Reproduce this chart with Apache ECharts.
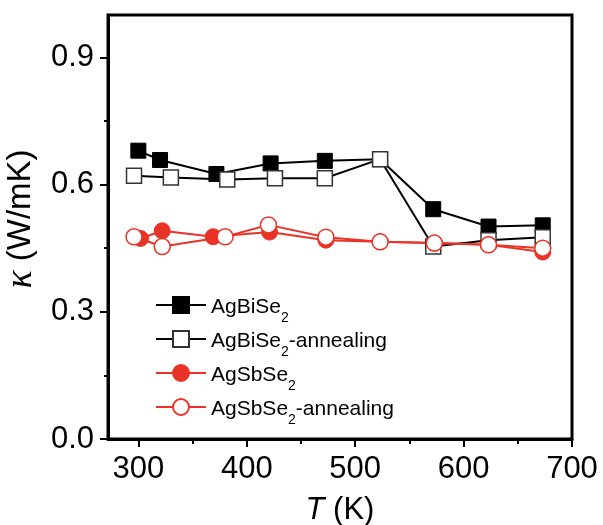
<!DOCTYPE html>
<html>
<head>
<meta charset="utf-8">
<script src="https://cdn.jsdelivr.net/npm/echarts@6/dist/echarts.min.js"></script>
<style>
  html, body { margin: 0; padding: 0; background: #fff; }
  #chart { width: 603px; height: 525px; }
</style>
</head>
<body>
<div id="chart"></div>
<script>
// temperatures (K) and thermal conductivity (W/mK)
var tBi = [300, 320, 372, 422, 472, 523, 572, 623, 673];
var kBi = [0.680, 0.658, 0.625, 0.650, 0.656, 0.660, 0.542, 0.501, 0.504];
var tBiAnn = [296, 330, 382, 426, 472, 523, 572, 623, 673];
var kBiAnn = [0.621, 0.617, 0.612, 0.615, 0.615, 0.660, 0.454, 0.469, 0.476];
var tSb = [302, 322, 369, 421, 473, 523, 573, 623, 673];
var kSb = [0.473, 0.491, 0.477, 0.488, 0.469, 0.465, 0.462, 0.458, 0.441];
var tSbAnn = [296, 322, 380, 420, 473, 523, 573, 623, 673];
var kSbAnn = [0.477, 0.454, 0.477, 0.505, 0.476, 0.465, 0.462, 0.458, 0.450];

var xTicks = [300, 400, 500, 600, 700];
var xMinor = [350, 450, 550, 650];
var yTicks = [0, 0.3, 0.6, 0.9];
var yMinor = [0.15, 0.45, 0.75];

var red = '#ea3327';

function pairs(xs, ys) {
    return xs.map(function (x, i) { return [x, ys[i]]; });
}

var chart = echarts.init(document.getElementById('chart'));

var font = 'Liberation Sans';
var xBase = { type: 'value', min: 272, max: 700, gridIndex: 0, position: 'bottom' };
var yBase = { type: 'value', min: 0, max: 1.0, gridIndex: 0, position: 'left' };

var option = {
    animation: false,
    backgroundColor: '#fff',
    grid: {
        left: 108, right: 31, top: 15, bottom: 86,
        outerBoundsMode: 'none',
        show: true, borderColor: '#000', borderWidth: 3
    },
    legend: {
        orient: 'vertical',
        left: 150, top: 288,
        itemWidth: 50, itemHeight: 20, itemGap: 2,
        data: ['AgBiSe2', 'AgBiSe2-annealing', 'AgSbSe2', 'AgSbSe2-annealing'],
        formatter: function (name) {
            var p = name.split('2');
            return '{a|' + p[0] + '}{s|2}' + (p[1] ? '{a|' + p[1] + '}' : '');
        },
        textStyle: {
            fontFamily: font, color: '#000',
            rich: {
                a: { fontFamily: font, fontSize: 21, color: '#000', lineHeight: 24,
                     padding: [4, 0, 4, 0], verticalAlign: 'top' },
                s: { fontFamily: font, fontSize: 14, color: '#000', lineHeight: 14,
                     padding: [18, 0, 0, 0], verticalAlign: 'top' }
            }
        }
    },
    xAxis: [
        Object.assign({}, xBase, {
            name: '{i|T}{n| (K)}',
            nameLocation: 'middle',
            nameGap: 56,
            nameTextStyle: {
                rich: {
                    i: { fontFamily: font, fontSize: 31, fontStyle: 'italic', color: '#000' },
                    n: { fontFamily: font, fontSize: 31, color: '#000' }
                }
            },
            axisLine: { lineStyle: { color: '#000', width: 3 } },
            axisTick: { inside: false, length: 8, lineStyle: { width: 2, color: '#000' }, customValues: xTicks },
            axisLabel: { customValues: xTicks, fontFamily: font, fontSize: 31, color: '#000', margin: 15 },
            splitLine: { show: false }
        }),
        Object.assign({}, xBase, {
            axisLine: { show: false },
            axisTick: { inside: false, length: 5, lineStyle: { width: 2, color: '#000' }, customValues: xMinor },
            axisLabel: { show: false },
            splitLine: { show: false }
        })
    ],
    yAxis: [
        Object.assign({}, yBase, {
            name: '{k|κ}{n| (W/mK)}',
            nameLocation: 'middle',
            nameGap: 62,
            nameRotate: 90,
            nameTextStyle: {
                padding: [0, 0, 0, 16],
                rich: {
                    k: { fontFamily: 'Liberation Serif', fontSize: 38, fontStyle: 'italic', color: '#000' },
                    n: { fontFamily: font, fontSize: 33, color: '#000' }
                }
            },
            axisLine: { show: true, lineStyle: { color: '#000', width: 3 } },
            axisTick: { show: true, inside: false, length: 8, lineStyle: { width: 2, color: '#000' }, customValues: yTicks },
            axisLabel: {
                customValues: yTicks, fontFamily: font, fontSize: 31, color: '#000', margin: 14,
                formatter: function (v) { return v.toFixed(1); }
            },
            splitLine: { show: false }
        }),
        Object.assign({}, yBase, {
            axisLine: { show: false },
            axisTick: { show: true, inside: false, length: 4, lineStyle: { width: 2, color: '#000' }, customValues: yMinor },
            axisLabel: { show: false },
            splitLine: { show: false }
        })
    ],
    series: [
        {
            name: 'AgBiSe2', type: 'line', data: pairs(tBi, kBi),
            symbol: 'rect', symbolSize: 15,
            color: '#000',
            lineStyle: { color: '#000', width: 2 },
            itemStyle: { color: '#000', borderColor: '#000', borderWidth: 1 }
        },
        {
            name: 'AgBiSe2-annealing', type: 'line', data: pairs(tBiAnn, kBiAnn),
            symbol: 'rect', symbolSize: 15,
            color: '#000',
            lineStyle: { color: '#000', width: 2 },
            itemStyle: { color: '#fff', borderColor: '#333', borderWidth: 1.5 }
        },
        {
            name: 'AgSbSe2', type: 'line', data: pairs(tSb, kSb),
            symbol: 'circle', symbolSize: 16,
            color: red,
            lineStyle: { color: red, width: 2 },
            itemStyle: { color: red, borderColor: red, borderWidth: 1 }
        },
        {
            name: 'AgSbSe2-annealing', type: 'line', data: pairs(tSbAnn, kSbAnn),
            symbol: 'circle', symbolSize: 16,
            color: red,
            lineStyle: { color: red, width: 2 },
            itemStyle: { color: '#fff', borderColor: red, borderWidth: 1.5 }
        }
    ]
};

chart.setOption(option);
</script>
</body>
</html>
